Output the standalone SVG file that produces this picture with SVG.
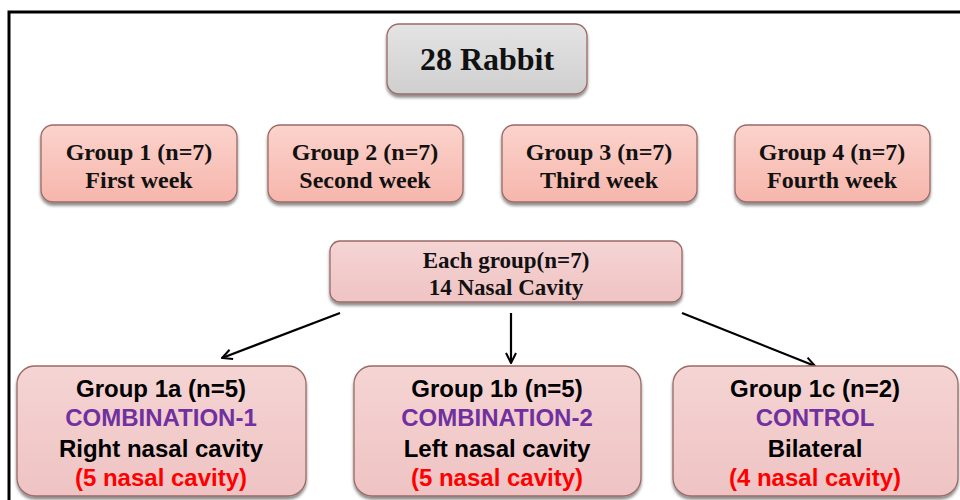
<svg xmlns="http://www.w3.org/2000/svg" width="960" height="500" viewBox="0 0 960 500">
<defs>
<linearGradient id="gGray" x1="0" y1="0" x2="0" y2="1"><stop offset="0" stop-color="#e4e4e4"/><stop offset="1" stop-color="#cfcfcf"/></linearGradient>
<linearGradient id="gPink" x1="0" y1="0" x2="0" y2="1"><stop offset="0" stop-color="#fbd3cc"/><stop offset="1" stop-color="#f6b6ac"/></linearGradient>
<linearGradient id="gPink2" x1="0" y1="0" x2="0" y2="1"><stop offset="0" stop-color="#f5d4d4"/><stop offset="1" stop-color="#efc3c3"/></linearGradient>
<filter id="sh" x="-10%" y="-10%" width="120%" height="130%"><feDropShadow dx="0" dy="3" stdDeviation="1.5" flood-color="#000" flood-opacity="0.45"/></filter>
<marker id="ah" viewBox="0 0 12 12" refX="11" refY="6" markerWidth="12" markerHeight="12" markerUnits="userSpaceOnUse" orient="auto"><path d="M1,1 L11,6 L1,11" fill="none" stroke="#000" stroke-width="2"/></marker>
<style>
.tb{font-family:"Liberation Serif",serif;font-weight:bold;fill:#111;text-anchor:middle}
.ab{font-family:"Liberation Sans",Arial,sans-serif;font-weight:bold;text-anchor:middle;font-size:24px}
.k{fill:#000}.p{fill:#7030a0}.r{fill:#ff0000}
.box{stroke:#9a6a66;stroke-width:1.3;filter:url(#sh)}
.conn{stroke:#000;stroke-width:2.2;fill:none;marker-end:url(#ah)}
</style>
</defs>
<rect width="960" height="500" fill="#fff"/>
<path d="M9,500 V12 H960" fill="none" stroke="#000" stroke-width="3"/>
<g id="n-rabbit"><rect class="box" x="387" y="24" width="200" height="70" rx="12" fill="url(#gGray)" stroke="#666"/><text class="tb" x="487" y="70" font-size="32">28 Rabbit</text></g>
<g id="n-g1"><rect class="box" x="41" y="125" width="196" height="77" rx="12" fill="url(#gPink)"/><text class="tb" x="139" y="160" font-size="24">Group 1 (n=7)</text><text class="tb" x="139" y="188" font-size="24">First week</text></g>
<g id="n-g2"><rect class="box" x="268" y="125" width="195" height="77" rx="12" fill="url(#gPink)"/><text class="tb" x="365" y="160" font-size="24">Group 2 (n=7)</text><text class="tb" x="365" y="188" font-size="24">Second week</text></g>
<g id="n-g3"><rect class="box" x="502" y="125" width="195" height="77" rx="12" fill="url(#gPink)"/><text class="tb" x="599" y="160" font-size="24">Group 3 (n=7)</text><text class="tb" x="599" y="188" font-size="24">Third week</text></g>
<g id="n-g4"><rect class="box" x="735" y="125" width="195" height="77" rx="12" fill="url(#gPink)"/><text class="tb" x="832" y="160" font-size="24">Group 4 (n=7)</text><text class="tb" x="832" y="188" font-size="24">Fourth week</text></g>
<g id="n-each"><rect class="box" x="330" y="241" width="352" height="61" rx="10" fill="url(#gPink2)"/><text class="tb" x="506" y="268" font-size="23">Each group(n=7)</text><text class="tb" x="506" y="295" font-size="23">14 Nasal Cavity</text></g>
<g id="connectors">
<line class="conn" x1="340" y1="313" x2="222" y2="358"/>
<line class="conn" x1="511" y1="313" x2="511" y2="363"/>
<line class="conn" x1="682" y1="313" x2="815" y2="366"/>
</g>
<g id="n-1a"><rect class="box" x="17" y="366" width="289" height="130" rx="18" fill="url(#gPink2)"/><text class="ab k" x="161" y="397">Group 1a (n=5)</text><text class="ab p" x="161" y="426">COMBINATION-1</text><text class="ab k" x="161" y="457">Right nasal cavity</text><text class="ab r" x="161" y="486">(5 nasal cavity)</text></g>
<g id="n-1b"><rect class="box" x="354" y="366" width="287" height="130" rx="18" fill="url(#gPink2)"/><text class="ab k" x="497" y="397">Group 1b (n=5)</text><text class="ab p" x="497" y="426">COMBINATION-2</text><text class="ab k" x="497" y="457">Left nasal cavity</text><text class="ab r" x="497" y="486">(5 nasal cavity)</text></g>
<g id="n-1c"><rect class="box" x="673" y="366" width="285" height="130" rx="18" fill="url(#gPink2)"/><text class="ab k" x="815" y="397">Group 1c (n=2)</text><text class="ab p" x="815" y="426">CONTROL</text><text class="ab k" x="815" y="457">Bilateral</text><text class="ab r" x="815" y="486">(4 nasal cavity)</text></g>
</svg>
